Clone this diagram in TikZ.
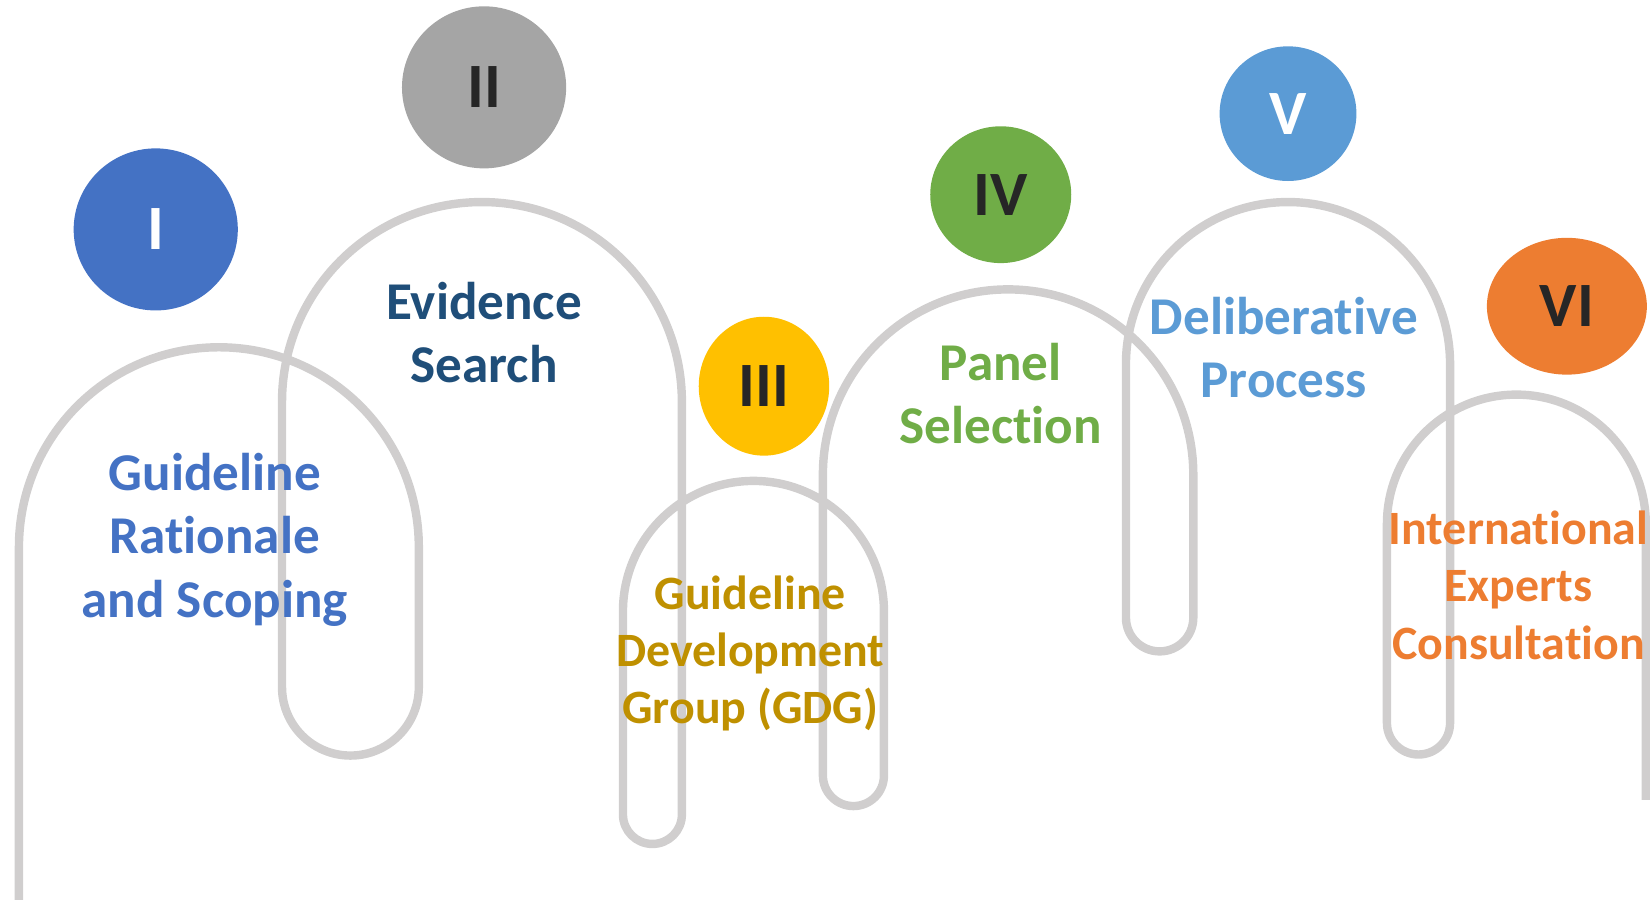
\documentclass[tikz,border=0pt]{standalone}
\usepackage{fontspec}
\setmainfont{Carlito}[RawFeature={-liga,-clig,-dlig,-calt}]
\usetikzlibrary{shapes.geometric}
\newcommand{\nolg}{\kern0pt }
\definecolor{track}{RGB}{208,206,206}
\definecolor{cI}{HTML}{4472C4}
\definecolor{cII}{HTML}{A5A5A5}
\definecolor{cIII}{HTML}{FFC000}
\definecolor{cIV}{HTML}{70AD47}
\definecolor{cV}{HTML}{5B9BD5}
\definecolor{cVI}{HTML}{ED7D31}
\definecolor{tII}{HTML}{1F4E79}
\definecolor{tIII}{HTML}{BF9000}
\definecolor{dark}{HTML}{262626}
\tikzset{
  badge/.style={ellipse, inner sep=0pt, font=\bfseries\fontsize{60}{62}\selectfont},
  lab/.style={align=center, inner sep=0pt, font=\bfseries\fontsize{50.5}{60}\selectfont},
  labs/.style={align=center, inner sep=0pt, font=\bfseries\fontsize{45.5}{54.5}\selectfont},
  trackline/.style={draw=track, line width=8pt, line join=round}
}
\begin{document}
\begin{tikzpicture}[x=1pt,y=1pt]
\useasboundingbox (0,0) rectangle (1568,-855);
\path[trackline]
  (18,-870) -- (18,-520) arc[start angle=180, end angle=0, radius=190]
  -- (398,-653) arc[start angle=0, end angle=-180, radius=65]
  -- (268,-382) arc[start angle=180, end angle=0, radius=190]
  -- (648,-774) arc[start angle=0, end angle=-180, radius=28]
  -- (592,-581) arc[start angle=180, end angle=0, radius=124]
  -- (840,-737) arc[start angle=0, end angle=-180, radius=29]
  -- (782,-451) arc[start angle=180, end angle=0, radius=176]
  -- (1134,-587) arc[start angle=0, end angle=-180, radius=32]
  -- (1070,-346) arc[start angle=180, end angle=0, radius=154]
  -- (1378,-687) arc[start angle=0, end angle=-180, radius=30]
  -- (1318,-498) arc[start angle=180, end angle=0, radius=123]
  -- (1564,-760);

\node[badge, fill=cI, text=white, minimum width=156pt, minimum height=154pt] (bI) at (148,-218) {I};
\node[badge, fill=cII, text=dark, minimum width=156pt, minimum height=154pt] (bII) at (460,-83) {II};
\node[badge, fill=cIII, text=dark, minimum width=124pt, minimum height=132pt] (bIII) at (726,-367) {III};
\node[badge, fill=cIV, text=dark, minimum width=134pt, minimum height=130pt] (bIV) at (951,-185) {IV};
\node[badge, fill=cV, text=white, minimum width=130pt, minimum height=128pt] (bV) at (1224,-108) {V};
\node[badge, fill=cVI, text=dark, minimum width=152pt, minimum height=130pt] (bVI) at (1489,-291) {VI};

\node[lab, text=cI] (tI) at (204,-513) {Guideline\\Rat\nolg ionale\\and Scoping};
\node[lab, text=tII] (tIIn) at (460,-316) {Evidence\\Search};
\node[labs, text=tIII] (tIIIn) at (713,-621) {Guideline\\Development\\Group (GDG)};
\node[lab, text=cIV] (tIV) at (951,-374) {Panel\\Selection};
\node[lab, text=cV] (tV) at (1220,-330) {Deliberat\nolg ive\\Process};
\node[labs, text=cVI] (tVI) at (1443,-556) {Internat\nolg ional\\Experts\\Consultat\nolg ion};
\end{tikzpicture}
\end{document}
